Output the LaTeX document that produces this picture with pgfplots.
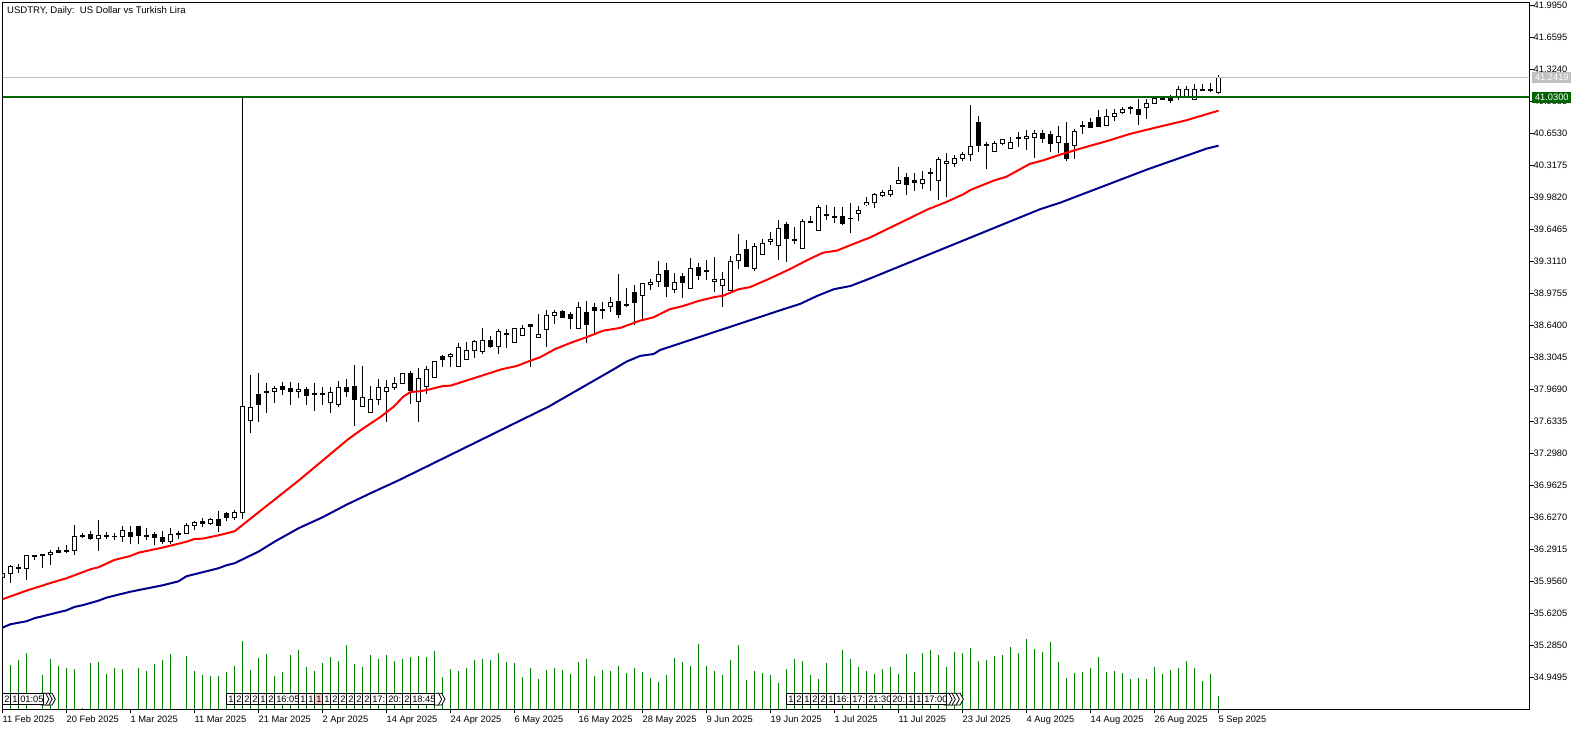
\documentclass[border=0pt]{standalone}
\usepackage{fontspec}
\setmainfont{Liberation Sans}
\usepackage{pgfplots}
\usepackage{pgfplotstable}
\pgfplotsset{compat=1.18}
\definecolor{volgreen}{RGB}{0,128,0}
\definecolor{lvlgreen}{RGB}{0,100,0}
\definecolor{maNavy}{RGB}{0,0,139}
\definecolor{lvlgray}{RGB}{192,192,192}
\definecolor{pinkbox}{RGB}{255,200,200}
\newcommand\lab{\fontsize{9.3}{11}\selectfont}
\pgfplotstableread{
i o h l c
0 35.998 36.040 35.998 36.040
1 36.036 36.124 35.942 36.106
2 36.103 36.138 36.040 36.089
3 36.092 36.228 35.970 36.228
4 36.228 36.228 36.179 36.211
5 36.235 36.235 36.096 36.225
6 36.235 36.284 36.131 36.260
7 36.274 36.316 36.249 36.260
8 36.284 36.333 36.256 36.267
9 36.277 36.546 36.232 36.428
10 36.431 36.466 36.410 36.424
11 36.442 36.483 36.386 36.403
12 36.403 36.599 36.277 36.438
13 36.438 36.473 36.403 36.424
14 36.428 36.466 36.389 36.424
15 36.424 36.536 36.368 36.490
16 36.470 36.536 36.347 36.424
17 36.532 36.532 36.347 36.438
18 36.431 36.511 36.389 36.424
19 36.442 36.477 36.340 36.410
20 36.417 36.480 36.347 36.372
21 36.372 36.511 36.347 36.449
22 36.456 36.480 36.403 36.449
23 36.456 36.564 36.452 36.546
24 36.543 36.592 36.494 36.574
25 36.578 36.616 36.522 36.564
26 36.567 36.623 36.546 36.606
27 36.606 36.693 36.477 36.543
28 36.669 36.686 36.592 36.623
29 36.623 36.704 36.599 36.679
30 36.679 41.030 36.609 37.791
31 37.644 38.119 37.514 37.780
32 37.916 38.140 37.630 37.811
33 37.948 38.035 37.724 37.934
34 37.944 38.000 37.829 37.979
35 37.997 38.046 37.906 37.969
36 37.979 38.046 37.808 37.944
37 37.948 38.032 37.881 37.965
38 37.969 37.993 37.808 37.906
39 37.920 38.032 37.745 37.913
40 37.920 37.990 37.808 37.913
41 37.832 37.990 37.724 37.937
42 37.811 38.056 37.787 37.990
43 37.990 38.077 37.892 37.944
44 38.000 38.224 37.588 37.860
45 37.791 38.210 37.787 37.881
46 37.728 38.000 37.724 37.864
47 37.864 38.074 37.801 37.990
48 37.948 38.067 37.630 37.990
49 37.990 38.095 37.965 38.032
50 38.032 38.137 38.032 38.137
51 38.137 38.158 37.815 37.958
52 37.843 38.196 37.630 38.084
53 38.000 38.213 37.916 38.178
54 38.095 38.262 38.095 38.262
55 38.308 38.325 38.206 38.280
56 38.311 38.346 38.199 38.336
57 38.207 38.451 38.207 38.409
58 38.283 38.465 38.283 38.378
59 38.378 38.486 38.297 38.472
60 38.364 38.608 38.339 38.483
61 38.483 38.528 38.399 38.413
62 38.420 38.598 38.339 38.577
63 38.556 38.598 38.402 38.542
64 38.458 38.615 38.458 38.608
65 38.532 38.647 38.532 38.608
66 38.650 38.650 38.207 38.629
67 38.517 38.755 38.503 38.545
68 38.598 38.797 38.416 38.745
69 38.745 38.801 38.654 38.776
70 38.787 38.801 38.713 38.724
71 38.755 38.783 38.598 38.710
72 38.608 38.885 38.598 38.829
73 38.776 38.891 38.451 38.650
74 38.829 38.870 38.556 38.794
75 38.808 38.881 38.710 38.797
76 38.839 38.933 38.780 38.881
77 38.891 39.175 38.720 38.755
78 38.860 39.028 38.836 38.846
79 38.986 39.063 38.640 38.881
80 38.954 39.080 38.703 39.080
81 39.070 39.122 39.010 39.091
82 39.101 39.314 39.045 39.175
83 39.216 39.290 38.940 39.045
84 39.017 39.185 38.975 39.091
85 39.153 39.185 38.930 39.091
86 39.028 39.342 39.028 39.237
87 39.248 39.290 39.115 39.164
88 39.216 39.321 39.115 39.206
89 39.101 39.353 38.993 39.122
90 39.059 39.195 38.835 39.122
91 39.007 39.367 39.003 39.311
92 39.321 39.594 39.230 39.384
93 39.437 39.534 39.255 39.255
94 39.237 39.500 39.213 39.468
95 39.384 39.541 39.384 39.500
96 39.520 39.622 39.482 39.541
97 39.478 39.744 39.325 39.657
98 39.699 39.727 39.307 39.552
99 39.541 39.674 39.489 39.531
100 39.447 39.751 39.447 39.730
101 39.730 39.786 39.720 39.720
102 39.636 39.901 39.632 39.877
103 39.804 39.901 39.744 39.793
104 39.783 39.877 39.709 39.765
105 39.783 39.884 39.692 39.709
106 39.762 39.926 39.611 39.758
107 39.814 39.891 39.737 39.845
108 39.905 39.989 39.891 39.926
109 39.926 40.024 39.873 40.013
110 39.999 40.059 39.989 40.034
111 40.013 40.111 39.989 40.055
112 40.125 40.296 40.125 40.160
113 40.191 40.233 40.006 40.114
114 40.160 40.233 40.048 40.139
115 40.125 40.258 40.073 40.170
116 40.244 40.286 40.048 40.233
117 40.160 40.401 39.954 40.380
118 40.338 40.443 39.982 40.359
119 40.338 40.426 40.300 40.391
120 40.391 40.457 40.366 40.432
121 40.432 40.950 40.363 40.516
122 40.768 40.831 40.457 40.527
123 40.537 40.565 40.279 40.527
124 40.464 40.569 40.460 40.548
125 40.548 40.590 40.527 40.590
126 40.495 40.611 40.492 40.558
127 40.611 40.663 40.509 40.600
128 40.600 40.684 40.478 40.621
129 40.611 40.688 40.394 40.653
130 40.653 40.684 40.555 40.600
131 40.642 40.674 40.457 40.548
132 40.558 40.729 40.443 40.621
133 40.541 40.772 40.366 40.387
134 40.527 40.695 40.387 40.674
135 40.730 40.782 40.646 40.723
136 40.768 40.814 40.709 40.712
137 40.820 40.897 40.723 40.726
138 40.737 40.908 40.733 40.831
139 40.827 40.904 40.786 40.862
140 40.873 40.929 40.852 40.904
141 40.925 40.936 40.852 40.911
142 40.904 41.009 40.740 40.852
143 40.925 41.009 40.803 40.967
144 40.967 41.030 40.967 41.020
145 41.030 41.044 41.006 41.009
146 41.030 41.051 40.974 40.999
147 41.044 41.146 40.999 41.114
148 41.044 41.149 41.030 41.114
149 41.009 41.166 41.006 41.114
150 41.114 41.170 41.100 41.107
151 41.114 41.177 41.090 41.100
152 41.083 41.264 41.065 41.240
}\candles
\pgfplotstableread{
i v
0 0
1 44.3
2 49.3
3 56.3
4 0
5 34.3
6 50.3
7 43.3
8 41.3
9 40.3
10 1
11 46.3
12 47.3
13 35.3
14 41.3
15 40.3
16 0
17 41.3
18 38.3
19 45.3
20 49.3
21 55.3
22 0
23 53.3
24 38.3
25 34.3
26 33.3
27 33.3
28 37.3
29 43.3
30 68.3
31 39.3
32 51.3
33 55.3
34 33.3
35 37.3
36 54.3
37 59.3
38 42.3
39 38.3
40 46.3
41 52.3
42 48.3
43 64.3
44 45.3
45 42.3
46 54.3
47 50.3
48 54.3
49 48.3
50 50.3
51 52.3
52 53.3
53 52.3
54 58.3
55 32.3
56 40.3
57 38.3
58 41.3
59 49.3
60 50.3
61 49.3
62 56.3
63 47.3
64 46.3
65 32.3
66 41.3
67 30.3
68 39.3
69 41.3
70 39.3
71 35.3
72 47.3
73 50.3
74 33.3
75 39.3
76 38.3
77 43.3
78 36.3
79 41.3
80 37.3
81 31.3
82 27.3
83 34.3
84 51.3
85 47.3
86 43.3
87 65.3
88 43.3
89 38.3
90 34.3
91 49.3
92 64.3
93 29.3
94 38.3
95 36.3
96 34.3
97 26.3
98 40.3
99 50.3
100 48.3
101 34.3
102 30.3
103 46.3
104 0
105 59.3
106 50.3
107 42.3
108 38.3
109 35.3
110 40.3
111 42.3
112 35.3
113 55.3
114 37.3
115 56.3
116 59.3
117 54.3
118 42.3
119 57.3
120 56.3
121 61.3
122 48.3
123 49.3
124 53.3
125 54.3
126 62.3
127 56.3
128 70.3
129 60.3
130 57.3
131 67.3
132 47.3
133 31.3
134 36.3
135 37.3
136 41.3
137 52.3
138 37.3
139 38.3
140 36.3
141 30.3
142 31.3
143 30.3
144 42.3
145 35.3
146 39.3
147 41.3
148 48.3
149 41.3
150 28.3
151 35.3
152 13.3
}\volumes
\newcommand\evb[3]{%
  \draw[black,fill=white,line width=1pt] (axis cs:#1,4.5) rectangle (axis cs:#2,16.2);
  \node[anchor=west,inner sep=0pt,font=\lab] at (axis cs:#1+0.2,10.3) {#3};}
\newcommand\evp[3]{%
  \draw[black,fill=pinkbox,line width=1pt] (axis cs:#1,4.5) rectangle (axis cs:#2,16.2);
  \node[anchor=west,inner sep=0pt,font=\lab] at (axis cs:#1+0.2,10.3) {#3};}
\newcommand\evc[1]{%
  \draw[black,fill=white,line width=0.8pt] (axis cs:#1-0.6,4.5) -- (axis cs:#1,4.5) -- (axis cs:#1+0.4,10.3) -- (axis cs:#1,16.2) -- (axis cs:#1-0.6,16.2) -- cycle;}
\begin{document}
\begin{tikzpicture}[x=1pt,y=1pt]
\useasboundingbox (0,0) rectangle (1582,730);
\begin{axis}[
  at={(2.5pt,20.5pt)}, anchor=south west,
  scale only axis, width=1527pt, height=707pt,
  xmin=0, xmax=190.875, ymin=34.6119, ymax=42.0244,
  clip mode=individual,
  axis line style={line width=1pt,black},
  xtick={0,8,...,152},
  xticklabels={11 Feb 2025,20 Feb 2025,1 Mar 2025,11 Mar 2025,21 Mar 2025,2 Apr 2025,14 Apr 2025,24 Apr 2025,6 May 2025,16 May 2025,28 May 2025,9 Jun 2025,19 Jun 2025,1 Jul 2025,11 Jul 2025,23 Jul 2025,4 Aug 2025,14 Aug 2025,26 Aug 2025,5 Sep 2025},
  ytick={34.9495,35.2850,35.6205,35.9560,36.2915,36.6270,36.9625,37.2980,37.6335,37.9690,38.3045,38.6400,38.9755,39.3110,39.6465,39.9820,40.3175,40.6530,40.9885,41.3240,41.6595,41.9950},
  yticklabels={34.9495,35.2850,35.6205,35.9560,36.2915,36.6270,36.9625,37.2980,37.6335,37.9690,38.3045,38.6400,38.9755,39.3110,39.6465,39.9820,40.3175,40.6530,40.9885,41.3240,41.6595,41.9950},
  ytick pos=right, yticklabel pos=right, xtick pos=bottom,
  tick align=outside, major tick length=4pt,
  tick style={line width=1pt,black},
  minor tick num=0,
  xticklabel style={font=\lab,anchor=north west,inner sep=0pt,yshift=-2pt},
  yticklabel style={font=\lab,anchor=west,inner sep=0pt},
]
% wicks
\addplot[draw=none,mark=none,forget plot,error bars/.cd,y dir=both,y explicit,error mark=none,
  error bar style={draw=black,line width=1pt}]
  table[x=i,y=l,y error plus expr={\thisrow{h}-\thisrow{l}},y error minus expr={0}] {\candles};
% bodies
\addplot[draw=none,mark=none,forget plot,error bars/.cd,y dir=both,y explicit,error mark=none,
  error bar style={draw=black,line width=5pt}]
  table[x=i,y expr={0.5*(\thisrow{o}+\thisrow{c})},
    y error plus expr={0.5*abs(\thisrow{o}-\thisrow{c})+0.0052},
    y error minus expr={0.5*abs(\thisrow{o}-\thisrow{c})+0.0052}] {\candles};
% white interior of rising candles
\addplot[draw=none,mark=none,forget plot,
  restrict expr to domain={\thisrow{c}-\thisrow{o}}{0:10},
  error bars/.cd,y dir=both,y explicit,error mark=none,
  error bar style={draw=white,line width=3pt}]
  table[x=i,y expr={0.5*(\thisrow{o}+\thisrow{c})},
    y error plus expr={max(0.5*(\thisrow{c}-\thisrow{o})-0.0052,0)},
    y error minus expr={max(0.5*(\thisrow{c}-\thisrow{o})-0.0052,0)}] {\candles};
% moving averages
\addplot[red,line width=2pt,mark=none] coordinates {
(0,35.768)(3,35.858)(6,35.938)(8,35.988)(11,36.082)(12,36.103)(14,36.180)(16,36.222)(17,36.256)(20,36.309)(23,36.371)(24,36.400)(25,36.403)(27,36.438)(29,36.480)(37,37.011)(43.2,37.445)(45.1,37.560)(47.2,37.676)(48.9,37.787)(50.1,37.892)(51,37.941)(52.2,37.948)(53.4,37.969)(55.1,38.004)(56,38.007)(62.4,38.179)(64.3,38.214)(66,38.269)(67.2,38.305)(69.1,38.392)(71.2,38.462)(73,38.515)(75.1,38.584)(77.2,38.612)(79.7,38.689)(81.4,38.724)(82.2,38.759)(83.4,38.808)(85.1,38.843)(87,38.895)(88.9,38.934)(90.1,38.951)(92,39.018)(93.4,39.039)(95.5,39.115)(98.4,39.228)(100.9,39.336)(102.6,39.402)(104.3,39.423)(106.8,39.507)(108.4,39.559)(115.7,39.857)(118,39.933)(120.1,40.014)(121,40.059)(123.9,40.157)(125.5,40.198)(128.4,40.332)(130.1,40.370)(132.2,40.429)(134.7,40.492)(138.4,40.580)(140.9,40.646)(144.3,40.716)(148,40.790)(150.5,40.853)(152,40.890)};
\addplot[maNavy,line width=2pt,mark=none] coordinates {
(0,35.470)(1,35.506)(3,35.537)(4,35.569)(8,35.652)(9,35.687)(10,35.705)(12,35.753)(13,35.785)(16,35.847)(20,35.914)(22,35.956)(23,36.009)(27,36.093)(28,36.124)(29,36.145)(32,36.267)(34,36.371)(37,36.512)(40,36.627)(43,36.759)(46,36.879)(49.6,37.018)(68.3,37.789)(76.4,38.179)(78,38.259)(79.7,38.319)(81.4,38.339)(82.2,38.381)(97.6,38.808)(99.7,38.864)(101.8,38.947)(103.9,39.018)(106,39.052)(108.5,39.133)(129.7,39.857)(132.2,39.925)(143,40.271)(145.5,40.345)(148.5,40.433)(150.5,40.492)(152,40.523)};
% level lines
\addplot[lvlgray,line width=1pt,mark=none] coordinates {(0,41.2419)(190.875,41.2419)};
\addplot[lvlgreen,line width=2pt,mark=none] coordinates {(0,41.0300)(190.875,41.0300)};
\node[anchor=west,inner sep=0pt,font=\fontsize{9.6}{11}\selectfont] at (axis cs:0.55,41.94) {USDTRY, Daily:\ \ US Dollar vs Turkish Lira};
\end{axis}
\begin{axis}[
  at={(2.5pt,20.5pt)}, anchor=south west,
  scale only axis, width=1527pt, height=707pt,
  xmin=0, xmax=190.875, ymin=0, ymax=707,
  axis lines=none, clip mode=individual,
]
\addplot[ycomb,volgreen,line width=1pt,mark=none] table[x=i,y=v] {\volumes};
% time labels, right to left so that each pointed end lies under the next
\evc{6.2}\evc{5.8}\evc{5.4}
\evb{0}{1}{2}\evb{1}{2}{1}\evb{2}{5.1}{01:05}
\evc{54.9}\evc{54.5}
\evb{28}{29}{1}\evb{29}{30}{2}\evb{30}{31}{2}\evb{31}{32}{2}\evb{32}{33}{1}\evb{33}{34}{2}\evb{34}{37}{16:05}\evb{37}{38}{1}\evb{38}{39}{1}\evp{39}{40}{1}\evb{40}{41}{1}\evb{41}{42}{2}\evb{42}{43}{2}\evb{43}{44}{2}\evb{44}{45}{2}\evb{45}{46}{2}\evb{46}{48}{17:}\evb{48}{50}{20:}\evb{50}{51}{2}\evb{51}{54}{18:45}
\evc{119.7}\evc{119.2}\evc{118.7}\evc{118.3}
\evb{98}{99}{1}\evb{99}{100}{2}\evb{100}{101}{1}\evb{101}{102}{2}\evb{102}{103}{2}\evb{103}{104}{1}\evb{104}{106}{16:}\evb{106}{108}{17:}\evb{108}{111}{21:30}\evb{111}{113}{20:}\evb{113}{114}{1}\evb{114}{115}{1}\evb{115}{118}{17:00}
% price tags on the scale
\node[anchor=west,inner sep=0pt,minimum width=39pt,minimum height=10.7pt,fill=lvlgray,text=white,font=\lab] at (axis cs:191.2,632.2) {41.2419};
\node[anchor=west,inner sep=0pt,minimum width=39pt,minimum height=10.7pt,fill=lvlgreen,text=white,font=\lab] at (axis cs:191.2,611.8) {41.0300};
\end{axis}
\end{tikzpicture}
\end{document}
